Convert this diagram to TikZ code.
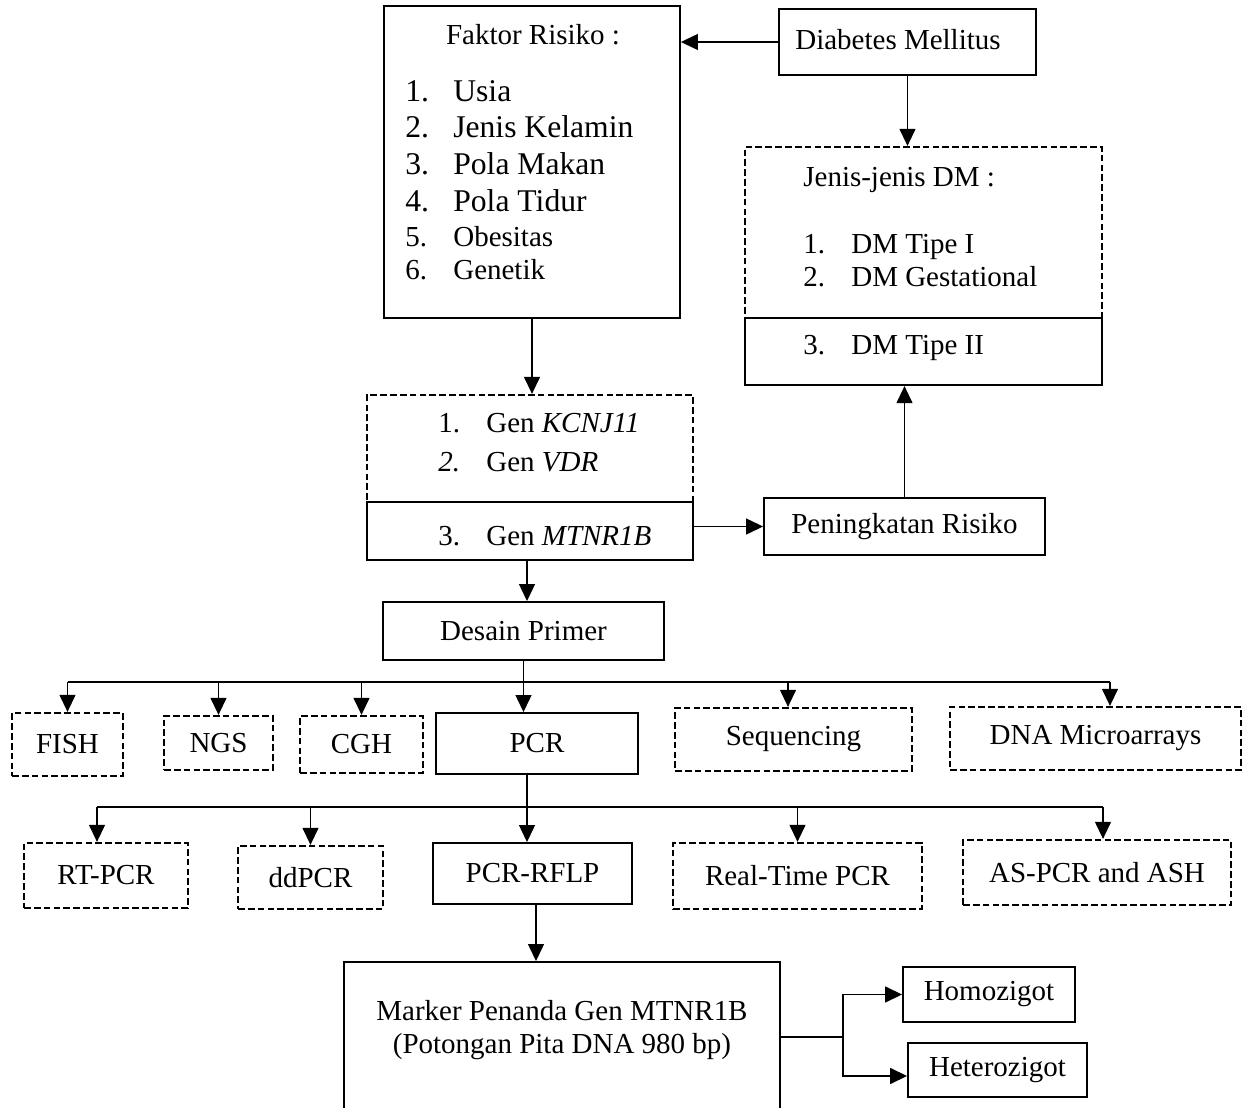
\documentclass[tikz,border=0pt]{standalone}
\usepackage{fontspec}
\setmainfont{Liberation Serif}
\usetikzlibrary{arrows.meta}
\newcommand{\fs}{\fontsize{16.5}{18.7}\selectfont}
\newcommand{\fb}{\fontsize{18}{21}\selectfont}
\newcommand{\itm}[2]{\makebox[0.96cm][l]{#1}#2}

\tikzset{
  box/.style={draw, line width=1.1pt, inner sep=0pt, font=\fs},
  dbox/.style={box, line width=1.3pt, dash pattern=on 3.8pt off 1.8pt},
  txt/.style={inner sep=0pt, anchor=base west, font=\fs},
  arr/.style={line width=0.7pt, -{Triangle[length=0.34cm,width=0.32cm]}},
  bar/.style={line width=1.3pt},
}

\begin{document}
\begin{tikzpicture}[x=0.02cm, y=-0.02cm]
	%%%%% FRAME %%%%%
	\useasboundingbox (0,0) rectangle (1242,1108);
	\clip (0,0) rectangle (1242,1108);
	
	%%%%% TOP %%%%%
	\node[box, minimum width=5.92cm, minimum height=6.24cm] (faktor) at (532,162) {};
	\node[txt, anchor=base] (fk0) at (533,45) {Faktor Risiko :};
	\node[txt, font=\fb] (fk1) at (405,102) {\itm{1.}{Usia}};
	\node[txt, font=\fb] (fk2) at (405,138) {\itm{2.}{Jenis Kelamin}};
	\node[txt, font=\fb] (fk3) at (405,175) {\itm{3.}{Pola Makan}};
	\node[txt, font=\fb] (fk4) at (405,212) {\itm{4.}{Pola Tidur}};
	\node[txt] (fk5) at (405,247) {\itm{5.}{Obesitas}};
	\node[txt] (fk6) at (405,280) {\itm{6.}{Genetik}};
	
	\node[box, minimum width=5.14cm, minimum height=1.32cm] (dm) at (907.5,42) {};
	\node[txt] (dmtxt) at (795,50) {Diabetes Mellitus};
	
	\node[dbox, minimum width=7.14cm, minimum height=4.76cm] (jenis) at (923.5,266) {};
	\node[box, minimum width=7.14cm, minimum height=1.34cm] (tipe2) at (923.5,351.5) {};
	\node[txt] (jn0) at (803,187) {Jenis-jenis DM :};
	\node[txt] (jn1) at (803,254) {\itm{1.}{DM Tipe I}};
	\node[txt] (jn2) at (803,287) {\itm{2.}{DM Gestational}};
	\node[txt] (jn3) at (803,355) {\itm{3.}{DM Tipe II}};
	
	\draw[arr] (dm.west) -- (faktor.east |- dm.west);
	\draw[arr] (dm.south) -- (dm.south |- jenis.north);
	
	%%%%% GEN %%%%%
	\node[dbox, minimum width=6.52cm, minimum height=3.3cm] (gen) at (530,477.5) {};
	\node[box, minimum width=6.52cm, minimum height=1.16cm] (mtnr) at (530,531) {};
	\node[txt] (gn1) at (438,433) {\itm{1.}{Gen \textit{KCNJ11}}};
	\node[txt] (gn2) at (438,472) {\itm{\textit{2.}}{Gen \textit{VDR}}};
	\node[txt] (gn3) at (438,545) {\itm{3.}{Gen \textit{MTNR1B}}};
	
	\node[box, minimum width=5.62cm, minimum height=1.14cm] (risiko) at (904.5,526.5) {Peningkatan Risiko};
	\node[box, minimum width=5.62cm, minimum height=1.16cm] (desain) at (523.5,631) {Desain Primer};
	
	\draw[arr] (faktor.south) -- (faktor.south |- gen.north);
	\draw[arr] (mtnr.east |- risiko.west) -- (risiko.west);
	\draw[arr] (risiko.north) -- (risiko.north |- jenis.south);
	\draw[arr] ([xshift=-0.06cm]gen.south) -- ([xshift=-0.06cm]gen.south |- desain.north);
	
	%%%%% METODE %%%%%
	\coordinate (bar1) at (0,682);
	\node[dbox, minimum width=2.22cm, minimum height=1.26cm] (fish) at (67.5,744.5) {FISH};
	\node[dbox, minimum width=2.18cm, minimum height=1.08cm] (ngs) at (218.5,743) {NGS};
	\node[dbox, minimum width=2.46cm, minimum height=1.14cm] (cgh) at (361.5,744.5) {CGH};
	\node[box, minimum width=4.04cm, minimum height=1.22cm] (pcr) at (537,743.5) {PCR};
	\node[dbox, minimum width=4.74cm, minimum height=1.26cm] (seq) at (793.5,739.5) {Sequencing};
	\node[dbox, minimum width=5.82cm, minimum height=1.26cm] (dna) at (1095.5,738.5) {DNA Microarrays};
	
	\draw[bar] (fish.north |- bar1) -- ([xshift=0.29cm]dna.north |- bar1);
	\draw[arr] (fish.north |- bar1) -- (fish.north);
	\draw[arr] (ngs.north |- bar1) -- (ngs.north);
	\draw[arr] (cgh.north |- bar1) -- (cgh.north);
	\draw[arr] (desain.south) -- (desain.south |- pcr.north);
	\draw[arr] ([xshift=-0.11cm]seq.north |- bar1) -- ([xshift=-0.11cm]seq.north);
	\draw[arr] ([xshift=0.29cm]dna.north |- bar1) -- ([xshift=0.29cm]dna.north);
	
	%%%%% PCR %%%%%
	\coordinate (bar2) at (0,807);
	\node[dbox, minimum width=3.28cm, minimum height=1.3cm] (rtpcr) at (106,875.5) {RT-PCR};
	\node[dbox, minimum width=2.9cm, minimum height=1.26cm] (ddpcr) at (310.5,877.5) {ddPCR};
	\node[box, minimum width=3.98cm, minimum height=1.22cm] (rflp) at (532.5,873.5) {PCR-RFLP};
	\node[dbox, minimum width=4.98cm, minimum height=1.32cm] (realtime) at (797.5,876) {Real-Time PCR};
	\node[dbox, minimum width=5.36cm, minimum height=1.3cm] (aspcr) at (1097,872.5) {AS-PCR and ASH};
	
	\draw[bar] ([xshift=-0.18cm]rtpcr.north |- bar2) -- ([xshift=0.12cm]aspcr.north |- bar2);
	\draw[arr] ([xshift=-0.18cm]rtpcr.north |- bar2) -- ([xshift=-0.18cm]rtpcr.north);
	\draw[arr] (ddpcr.north |- bar2) -- (ddpcr.north);
	\draw[arr] ([xshift=-0.2cm]pcr.south) -- ([xshift=-0.2cm]pcr.south |- rflp.north);
	\draw[arr] (realtime.north |- bar2) -- (realtime.north);
	\draw[arr] ([xshift=0.12cm]aspcr.north |- bar2) -- ([xshift=0.12cm]aspcr.north);
	
	%%%%% MARKER %%%%%
	\node[box, minimum width=8.72cm, minimum height=3.24cm, align=center] (marker) at (562,1043)
		{Marker Penanda Gen MTNR1B\\(Potongan Pita DNA 980 bp)\\\mbox{}};
	\node[box, minimum width=3.44cm, minimum height=1.1cm] (homo) at (989,994.5) {Homozigot};
	\node[box, minimum width=3.58cm, minimum height=1.08cm] (hetero) at (997.5,1070) {Heterozigot};
	\coordinate (split) at (843,1037);
	
	\draw[arr] ([xshift=0.07cm]rflp.south) -- ([xshift=0.07cm]rflp.south |- marker.north);
	\draw[line width=0.9pt] ([yshift=0.12cm]marker.east) -- (split);
	\draw[arr, line width=0.9pt] (split) |- (homo.west);
	\draw[arr, line width=0.9pt] (split) |- ([yshift=-0.12cm]hetero.west);
	
\end{tikzpicture}
\end{document}
